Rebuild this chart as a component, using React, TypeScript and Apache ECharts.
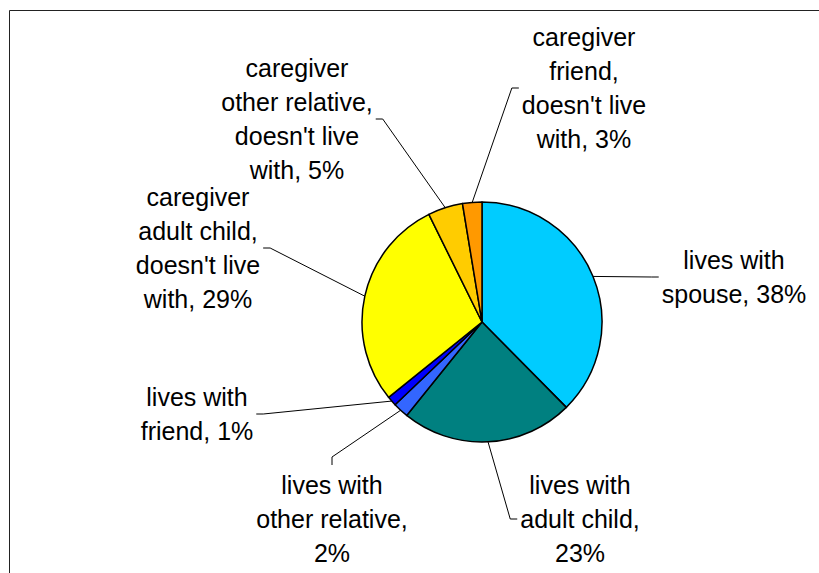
import React, { useEffect, useRef } from 'react';
import * as echarts from 'echarts';

const categories = [
  'lives with spouse',
  'lives with adult child',
  'lives with other relative',
  'lives with friend',
  "caregiver adult child, doesn't live with",
  "caregiver other relative, doesn't live with",
  "caregiver friend, doesn't live with",
];
const values = [37.6, 23.2, 2.1, 1.3, 28.5, 4.7, 2.6];
const colors = ['#00CCFF', '#008080', '#3366FF', '#0000FF', '#FFFF00', '#FFCC00', '#FF9900'];
const labelTemplates = [
  'lives with\nspouse, {p}%',
  'lives with\nadult child,\n{p}%',
  'lives with\nother relative,\n{p}%',
  'lives with\nfriend, {p}%',
  "caregiver\nadult child,\ndoesn't live\nwith, {p}%",
  "caregiver\nother relative,\ndoesn't live\nwith, {p}%",
  "caregiver\nfriend,\ndoesn't live\nwith, {p}%",
];
// label block centres (layout) and the side of the block where the leader line attaches
const labelCenters = [
  [734, 277],
  [580, 519],
  [332, 519],
  [197, 414],
  [198, 248],
  [297, 119],
  [584, 88],
];
const labelSides = ['left', 'left', 'top', 'right', 'right', 'right', 'left'];

export default function App() {
  const ref = useRef<HTMLDivElement>(null);
  useEffect(() => {
    if (!ref.current) return;
    const chart = echarts.init(ref.current, undefined, { renderer: 'svg' });
    const data = categories.map((name, i) => ({
      name,
      value: values[i],
      itemStyle: { color: colors[i] },
    }));
    chart.setOption({
      animation: false,
      backgroundColor: '#fff',
      graphic: [
        {
          type: 'rect',
          shape: { x: 9.5, y: 10.5, width: 830, height: 600 },
          style: { fill: 'none', stroke: '#222', lineWidth: 1 },
          silent: true,
        },
      ],
      series: [
        {
          type: 'pie',
          center: [482, 322],
          radius: 120,
          startAngle: 90,
          clockwise: true,
          avoidLabelOverlap: false,
          data,
          itemStyle: { borderColor: '#000', borderWidth: 1.5 },
          emphasis: { disabled: true },
          label: {
            show: true,
            position: 'outside',
            overflow: 'none',
            fontFamily: 'Liberation Sans, Arial, sans-serif',
            fontSize: 25,
            lineHeight: 34,
            color: '#000',
            align: 'center',
            formatter: (p: any) =>
              labelTemplates[p.dataIndex].replace('{p}', String(Math.round(p.percent))),
          },
          labelLine: {
            show: true,
            smooth: false,
            lineStyle: { color: '#000', width: 1 },
          },
          labelLayout: (params: any) => {
            const i = params.dataIndex;
            const [cx, cy] = labelCenters[i];
            const w = params.labelRect.width;
            const h = params.labelRect.height;
            const side = labelSides[i];
            let end: number[];
            let elbow: number[];
            if (side === 'left') {
              end = [cx - w / 2 - 3, cy];
              elbow = [end[0] - 7, cy];
            } else if (side === 'right') {
              end = [cx + w / 2 + 3, cy];
              elbow = [end[0] + 7, cy];
            } else {
              end = [cx, cy - h / 2 - 3];
              elbow = [cx, end[1] - 8];
            }
            const pts = params.labelLinePoints;
            const res: any = { x: cx, y: cy, align: 'center', verticalAlign: 'middle' };
            if (pts && pts.length) {
              res.labelLinePoints = [pts[0], elbow, end];
            }
            return res;
          },
        },
      ],
    });
    return () => chart.dispose();
  }, []);
  return (
    <div
      ref={ref}
      style={{ position: 'fixed', left: 0, top: 0, width: 819, height: 573 }}
    />
  );
}
